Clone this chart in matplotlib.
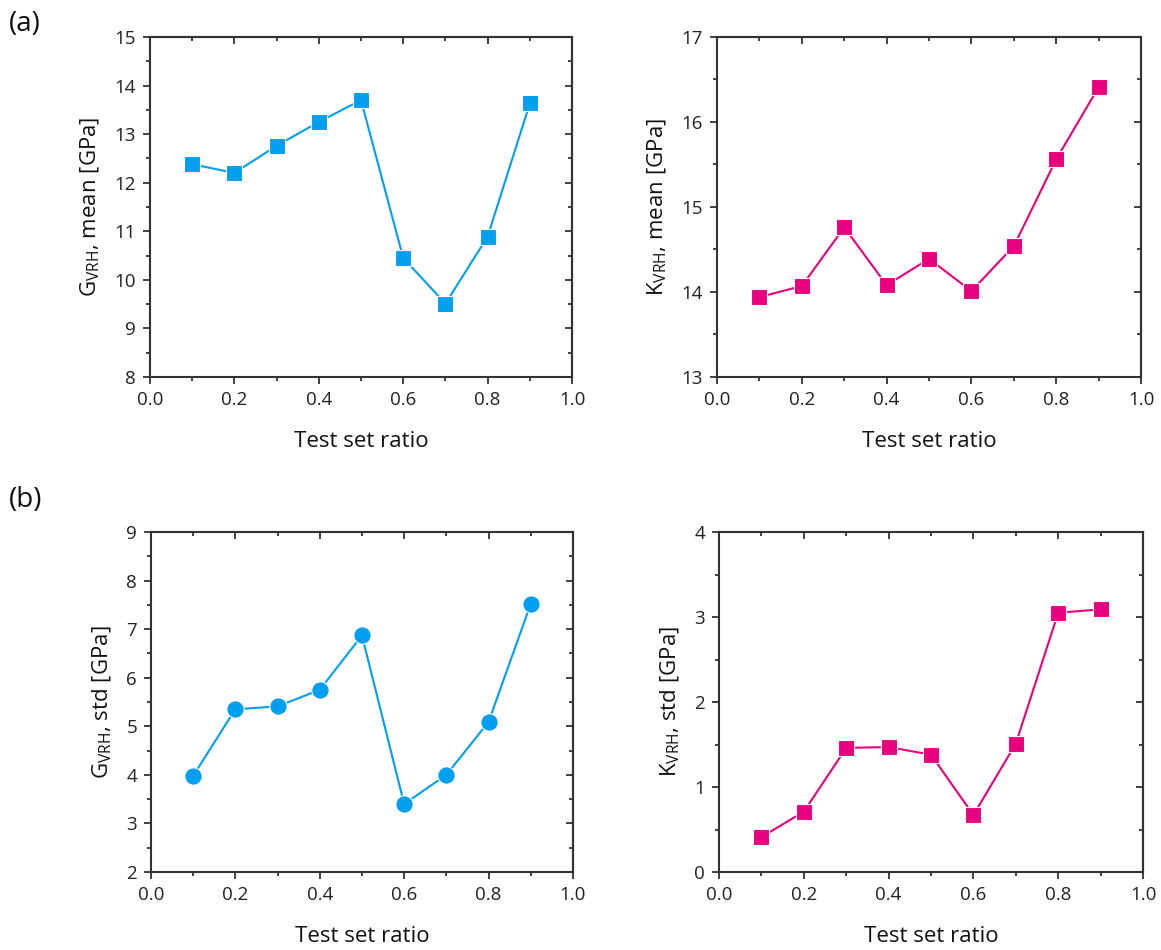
import matplotlib
matplotlib.use("Agg")
import matplotlib.pyplot as plt
from matplotlib.ticker import MultipleLocator

plt.rcParams['font.family'] = ['Open Sans', 'DejaVu Sans']
plt.rcParams['mathtext.default'] = 'regular'

ratio = [0.1, 0.2, 0.3, 0.4, 0.5, 0.6, 0.7, 0.8, 0.9]
g_mean = [12.38, 12.20, 12.76, 13.25, 13.70, 10.45, 9.51, 10.89, 13.63]
k_mean = [13.94, 14.07, 14.76, 14.08, 14.39, 14.01, 14.54, 15.56, 16.41]
g_std = [3.98, 5.35, 5.41, 5.75, 6.87, 3.40, 4.00, 5.09, 7.52]
k_std = [0.41, 0.71, 1.46, 1.47, 1.38, 0.67, 1.51, 3.05, 3.09]

blue = '#009FEF'
pink = '#E8007F'
spine_c = '#333333'

fig = plt.figure(figsize=(11.61, 9.5), dpi=100)

panels = [
    ([0.1292, 0.6032, 0.3635, 0.3579], g_mean, blue, 's', r'G$_{VRH}$, mean [GPa]', (8, 15), 1, 0.5),
    ([0.6176, 0.6032, 0.3652, 0.3579], k_mean, pink, 's', r'K$_{VRH}$, mean [GPa]', (13, 17), 1, 0.5),
    ([0.1300, 0.0821, 0.3635, 0.3579], g_std, blue, 'o', r'G$_{VRH}$, std [GPa]', (2, 9), 1, 0.5),
    ([0.6193, 0.0821, 0.3652, 0.3579], k_std, pink, 's', r'K$_{VRH}$, std [GPa]', (0, 4), 1, 0.5),
]

for rect, y, col, mk, ylab, ylim, ymaj, ymin in panels:
    ax = fig.add_axes(rect)
    ms = 12.5 if mk == 'o' else 11.5
    ax.plot(ratio, y, color=col, lw=1.5, marker=mk, ms=ms, mfc=col,
            mec='white', mew=0.8, zorder=3)
    ax.set_xlim(0, 1)
    ax.set_ylim(*ylim)
    ax.xaxis.set_major_locator(MultipleLocator(0.2))
    ax.xaxis.set_minor_locator(MultipleLocator(0.1))
    ax.yaxis.set_major_locator(MultipleLocator(ymaj))
    ax.yaxis.set_minor_locator(MultipleLocator(ymin))
    ax.xaxis.set_major_formatter(matplotlib.ticker.FormatStrFormatter('%.1f'))
    ax.tick_params(which='both', direction='out', top=False, right=False,
                   color=spine_c, width=1.3, labelsize=13.5, labelcolor='#222222')
    ax.tick_params(which='major', length=5, pad=5)
    ax.tick_params(which='minor', length=3)
    for s in ax.spines.values():
        s.set_linewidth(1.5)
        s.set_color(spine_c)
    ax.set_xlabel('Test set ratio', fontsize=16, labelpad=16, color='#111111')
    ax.set_ylabel(ylab, fontsize=16, labelpad=9, color='#111111')

    secx = ax.secondary_xaxis('top')
    secx.xaxis.set_major_locator(MultipleLocator(0.2))
    secx.xaxis.set_minor_locator(MultipleLocator(0.1))
    secx.tick_params(axis='x', which='both', direction='in', labeltop=False,
                     labelbottom=False, color=spine_c, width=1.3)
    secx.tick_params(which='major', length=5)
    secx.tick_params(which='minor', length=3)
    secx.spines['top'].set_linewidth(1.5)
    secx.spines['top'].set_color(spine_c)

    secy = ax.secondary_yaxis('right')
    secy.yaxis.set_major_locator(MultipleLocator(ymaj))
    secy.yaxis.set_minor_locator(MultipleLocator(ymin))
    secy.tick_params(axis='y', which='both', direction='in', labelright=False,
                     labelleft=False, color=spine_c, width=1.3)
    secy.tick_params(which='major', length=5)
    secy.tick_params(which='minor', length=3)
    secy.spines['right'].set_linewidth(1.5)
    secy.spines['right'].set_color(spine_c)

fig.text(0.008, 0.975, '(a)', fontsize=20, ha='left', va='center', color='#111111')
fig.text(0.008, 0.474, '(b)', fontsize=20, ha='left', va='center', color='#111111')

fig.savefig('out.png', dpi=100)
